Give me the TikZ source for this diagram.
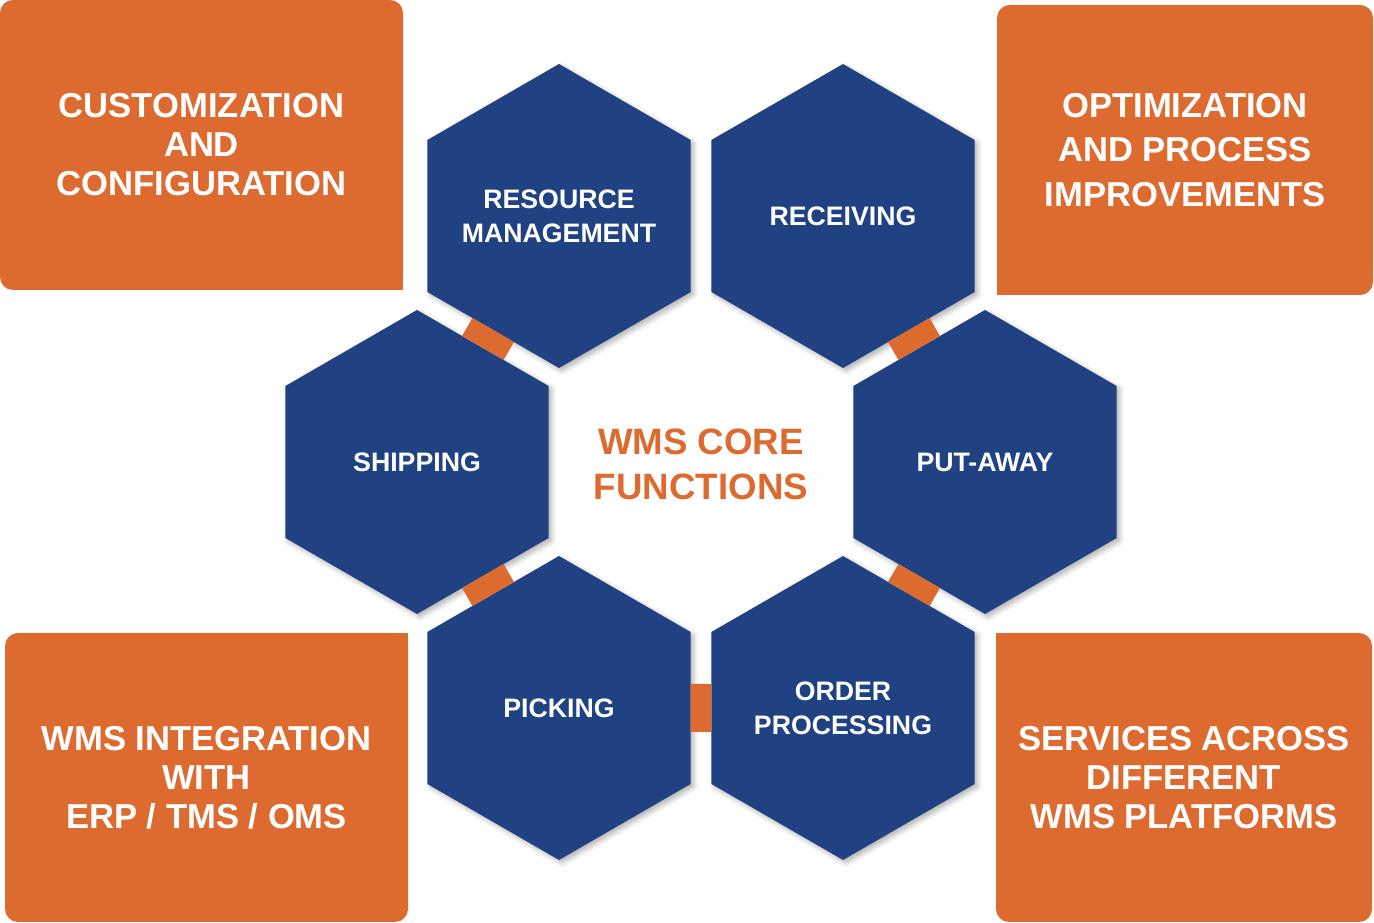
\documentclass[tikz,border=0pt]{standalone}
\usepackage{fontspec}
\setmainfont{Liberation Sans}
\usepackage{tikz}
\usetikzlibrary{shapes.geometric}
\usetikzlibrary{shadows.blur}
\definecolor{wmsblue}{RGB}{32,66,130}
\definecolor{wmsorange}{RGB}{221,106,47}
\tikzset{x=1pt, y=1pt}
\tikzset{hexa/.style={regular polygon, regular polygon sides=6, shape border rotate=30, minimum size=304pt, inner sep=-30pt, outer sep=0pt, fill=wmsblue, text=white, align=center, font=\bfseries\fontsize{26.7}{34}\selectfont, blur shadow={shadow xshift=3pt, shadow yshift=-3pt, shadow blur radius=5pt, shadow opacity=30}}}
\tikzset{infobox/.style={rectangle, rounded corners=13pt, inner sep=0pt, outer sep=0pt, fill=wmsorange, text=white, align=center, font=\bfseries\fontsize{34.6}{39}\selectfont}}
\tikzset{bridge/.style={draw=wmsorange, line width=48pt}}

\begin{document}
\begin{tikzpicture}
    \useasboundingbox (0, 0) rectangle (1374, 923);
    \node[infobox, minimum width=403pt, minimum height=290pt] (custom) at (201.5, 778) {CUSTOMIZATION\\AND\\CONFIGURATION};
    \fill[wmsorange] (custom.south east) rectangle ++(-20, 20);
    \node[infobox, minimum width=376pt, minimum height=290pt, font=\bfseries\fontsize{34.6}{44.5}\selectfont] (optim) at (1185, 773) {OPTIMIZATION\\AND PROCESS\\IMPROVEMENTS};
    \fill[wmsorange] (optim.south west) rectangle ++(20, 20);
    \node[infobox, minimum width=403pt, minimum height=289pt] (integ) at (206.5, 145.5) {WMS INTEGRATION\\WITH\\ERP / TMS / OMS};
    \fill[wmsorange] (integ.north east) rectangle ++(-20, -20);
    \node[infobox, minimum width=376pt, minimum height=289pt] (serv) at (1184, 145.5) {SERVICES ACROSS\\DIFFERENT\\WMS PLATFORMS};
    \fill[wmsorange] (serv.north west) rectangle ++(20, -20);

    \node[hexa] (res) at (559, 707) {RESOURCE\\MANAGEMENT};
    \node[hexa] (recv) at (843, 707) {RECEIVING};
    \node[hexa] (ship) at (417, 461) {SHIPPING};
    \node[hexa] (put) at (985, 461) {PUT-AWAY};
    \node[hexa] (pick) at (559, 215) {PICKING};
    \node[hexa] (order) at (843, 215) {ORDER\\PROCESSING};
    \node[text=wmsorange, align=center, font=\bfseries\fontsize{36.7}{45}\selectfont] (core) at (701, 459) {WMS CORE\\FUNCTIONS};

    \draw[bridge] (res) -- (ship);
    \draw[bridge] (recv) -- (put);
    \draw[bridge] (ship) -- (pick);
    \draw[bridge] (put) -- (order);
    \draw[bridge] (pick) -- (order);
\end{tikzpicture}
\end{document}
